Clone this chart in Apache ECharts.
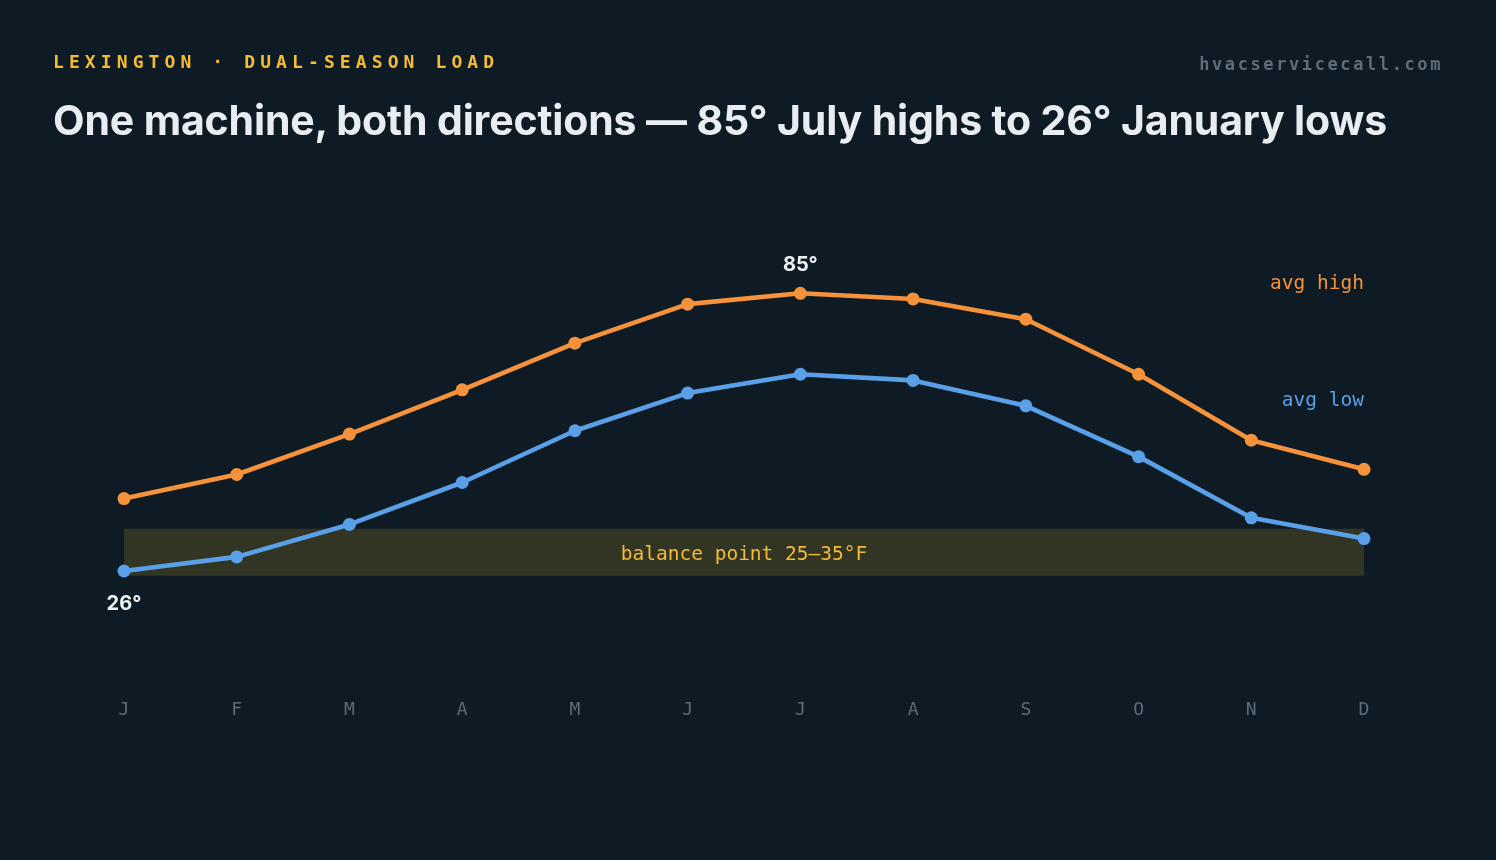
<!DOCTYPE html>
<html>
<head>
<meta charset="utf-8">
<script src="https://cdn.jsdelivr.net/npm/echarts@6/dist/echarts.min.js"></script>
<style>
  html, body { margin: 0; padding: 0; background: #0f1b24; }
  #wrap { position: relative; width: 1496px; height: 860px; }
  #chart { position: absolute; left: 0; top: 0; width: 1496px; height: 860px; }
  .kicker { position: absolute; left: 53px; top: 51px; font-family: "DejaVu Sans Mono", monospace; font-weight: bold;
    font-size: 18px; letter-spacing: 5.1px; color: #f4bc35; }
  .site { position: absolute; right: 53px; top: 54px; font-family: "DejaVu Sans Mono", monospace; font-weight: bold;
    font-size: 17px; letter-spacing: 2.6px; color: #5d6d7a; }
  .headline { position: absolute; left: 53px; top: 95px; font-family: Inter, sans-serif; font-weight: 700;
    font-size: 41px; letter-spacing: -0.15px; color: #e9edf1; white-space: nowrap; }
</style>
</head>
<body>
<div id="wrap">
  <div id="chart"></div>
  <div class="kicker">LEXINGTON · DUAL-SEASON LOAD</div>
  <div class="site">hvacservicecall.com</div>
  <div class="headline">One machine, both directions — 85° July highs to 26° January lows</div>
</div>
<script>
// months along the bottom
let months = ['J', 'F', 'M', 'A', 'M', 'J', 'J', 'A', 'S', 'O', 'N', 'D']

// monthly normals, °F
let avgHigh = [41.4, 46.5, 55.1, 64.5, 74.4, 82.7, 85, 83.8, 79.5, 67.8, 53.8, 47.6]
let avgLow = [26, 29, 35.9, 44.8, 55.8, 63.8, 67.8, 66.5, 61.1, 50.3, 37.3, 32.9]

// heat pump balance point band
let balanceBand = [25, 35]

let orange = '#f5923b'
let blue = '#5aa0e8'

let calloutLabel = {
    show: true,
    color: '#eef1f4',
    fontFamily: 'Inter, sans-serif',
    fontWeight: 'bold',
    fontSize: 20
}

// only the peak high and the coldest low get a callout
function withCallout(values, idx, pos, dist) {
    return values.map(function(v, i) {
        if (i !== idx) return v
        return { value: v, label: Object.assign({ position: pos, distance: dist, formatter: '{c}°' }, calloutLabel) }
    })
}

let hiIdx = avgHigh.indexOf(Math.max.apply(null, avgHigh))
let loIdx = avgLow.indexOf(Math.min.apply(null, avgLow))

let chart = echarts.init(document.getElementById('chart'))

let monoFont = '"DejaVu Sans Mono", monospace'

let option = {
    backgroundColor: 'transparent',
    animation: false,
    grid: { left: 124, right: 132, top: 222.7, bottom: 166.6 },
    xAxis: {
        type: 'category',
        data: months,
        boundaryGap: false,
        axisLine: { show: false },
        axisTick: { show: false },
        axisLabel: {
            color: '#5b6b78',
            fontFamily: monoFont,
            fontSize: 18,
            margin: 8
        }
    },
    yAxis: {
        type: 'value',
        min: 0,
        max: 100,
        show: false,
        splitLine: { show: false }
    },
    graphic: [
        {
            type: 'text', right: 132, top: 274,
            style: { text: 'avg high', fill: orange, font: '19.5px "DejaVu Sans Mono", monospace', textAlign: 'right' }
        },
        {
            type: 'text', right: 132, top: 391,
            style: { text: 'avg low', fill: blue, font: '19.5px "DejaVu Sans Mono", monospace', textAlign: 'right' }
        }
    ],
    series: [
        {
            name: 'avg low',
            type: 'line',
            data: withCallout(avgLow, loIdx, 'bottom', 16),
            z: 3,
            symbol: 'circle',
            symbolSize: 13,
            lineStyle: { color: blue, width: 4.6 },
            itemStyle: { color: blue },
            label: { show: false },
            markArea: {
                silent: true,
                itemStyle: { color: 'rgba(94, 86, 36, 0.45)' },
                label: {
                    show: true,
                    position: 'inside',
                    offset: [0, 3],
                    color: '#f4bc35',
                    fontFamily: monoFont,
                    fontSize: 19.5
                },
                data: [[
                    { name: 'balance point 25–35°F', xAxis: 0, yAxis: balanceBand[0] },
                    { xAxis: months.length - 1, yAxis: balanceBand[1] }
                ]]
            }
        },
        {
            name: 'avg high',
            type: 'line',
            data: withCallout(avgHigh, hiIdx, 'top', 12),
            z: 4,
            symbol: 'circle',
            symbolSize: 13,
            lineStyle: { color: orange, width: 4.6 },
            itemStyle: { color: orange },
            label: { show: false }
        }
    ]
}

chart.setOption(option)
</script>
</body>
</html>
